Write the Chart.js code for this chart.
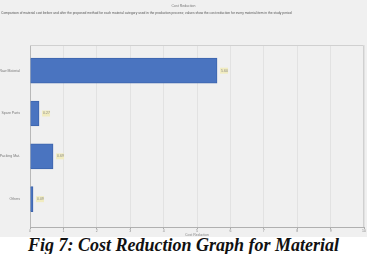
<!DOCTYPE html>
<html>
<head>
<meta charset="utf-8">
<script src="https://cdn.jsdelivr.net/npm/chart.js@4"></script>
<style>
  body { margin: 0; background: #fff; }
  #wrap { position: relative; width: 367px; height: 237px; background: #f0f0f0; }
  #hdr1 { position: absolute; top: 4px; left: 0; width: 367px; text-align: center; font: 3.5px "Liberation Sans", sans-serif; color: #777; }
  #hdr2 { position: absolute; top: 12px; left: 1px; width: 365px; font: 3.3px/1.1 "Liberation Sans", sans-serif; color: #555; }
  #cap { width: 367px; text-align: center; font: bold italic 18px "Liberation Serif", serif; color: #111; line-height: 17px; height: 17px; overflow: hidden; }
</style>
</head>
<body>
<div id="wrap">
  <div id="hdr1">Cost Reduction</div>
  <div id="hdr2">Comparison of material cost before and after the proposed method for each material category used in the production process; values show the cost reduction for every material item in the study period</div>
  <canvas id="chart" width="367" height="237"></canvas>
</div>
<div id="cap">Fig 7: Cost Reduction Graph for Material</div>
<script>
const categories = ['Raw Material', 'Spare Parts', 'Packing Mat.', 'Others'];
const positions = [0, 1, 2, 3];
const reduction = [5.6, 0.27, 0.69, 0.09];
const xTicks = [0, 1, 2, 3, 4, 5, 6, 7, 8, 9, 10];

const points = positions.map((p, i) => ({ x: reduction[i], y: p }));

const frame = {
    id: 'frame',
    afterDatasetsDraw(chart) {
        const { ctx, chartArea: a } = chart;
        ctx.save();
        ctx.strokeStyle = '#d0d0d0';
        ctx.lineWidth = 1;
        ctx.beginPath();
        ctx.moveTo(a.left, a.top + 0.5);
        ctx.lineTo(a.right - 0.5, a.top + 0.5);
        ctx.lineTo(a.right - 0.5, a.bottom);
        ctx.stroke();
        // value labels
        const meta = chart.getDatasetMeta(0);
        ctx.font = '3.5px "Liberation Sans", sans-serif';
        ctx.textBaseline = 'middle';
        meta.data.forEach((bar, i) => {
            const txt = reduction[i].toFixed(2);
            const x = bar.x + 3, y = bar.y;
            ctx.fillStyle = '#f1ecc0';
            ctx.fillRect(x, y - 3, 8, 6);
            ctx.fillStyle = '#888';
            ctx.fillText(txt, x + 1, y);
        });
        ctx.restore();
    }
};

new Chart(document.getElementById('chart'), {
    type: 'bar',
    data: {
        datasets: [{
            label: 'Cost Reduction',
            data: points,
            backgroundColor: '#4a74c0',
            borderColor: '#3d64ad',
            borderWidth: 1,
            barThickness: 25
        }]
    },
    options: {
        indexAxis: 'y',
        responsive: false,
        animation: false,
        layout: { padding: { top: 45, right: 3, left: 0, bottom: 0 } },
        plugins: {
            legend: { display: false },
            tooltip: { enabled: false }
        },
        scales: {
            y: {
                type: 'linear',
                reverse: true,
                offset: false,
                min: -0.6,
                max: 3.65,
                afterBuildTicks: s => { s.ticks = positions.map(v => ({ value: v })); },
                afterFit: s => { s.width = 30; },
                ticks: {
                    callback: v => categories[v],
                    font: { size: 3.5, family: 'Liberation Sans' },
                    color: '#777',
                    padding: 2
                },
                grid: { display: false, offset: false },
                border: { color: '#b8b8b8' }
            },
            x: {
                min: 0,
                max: 10,
                afterBuildTicks: s => { s.ticks = xTicks.map(v => ({ value: v })); },
                afterFit: s => { s.height = 10; },
                ticks: {
                    font: { size: 3.5, family: 'Liberation Sans' },
                    color: '#888',
                    padding: 0
                },
                title: {
                    display: true,
                    text: 'Cost Reduction',
                    font: { size: 3.5, family: 'Liberation Sans' },
                    color: '#888',
                    padding: 0
                },
                grid: { color: '#e2e2e2', tickLength: 2, tickColor: '#aaa' },
                border: { color: '#b0b0b0' }
            }
        }
    },
    plugins: [frame]
});
</script>
</body>
</html>
